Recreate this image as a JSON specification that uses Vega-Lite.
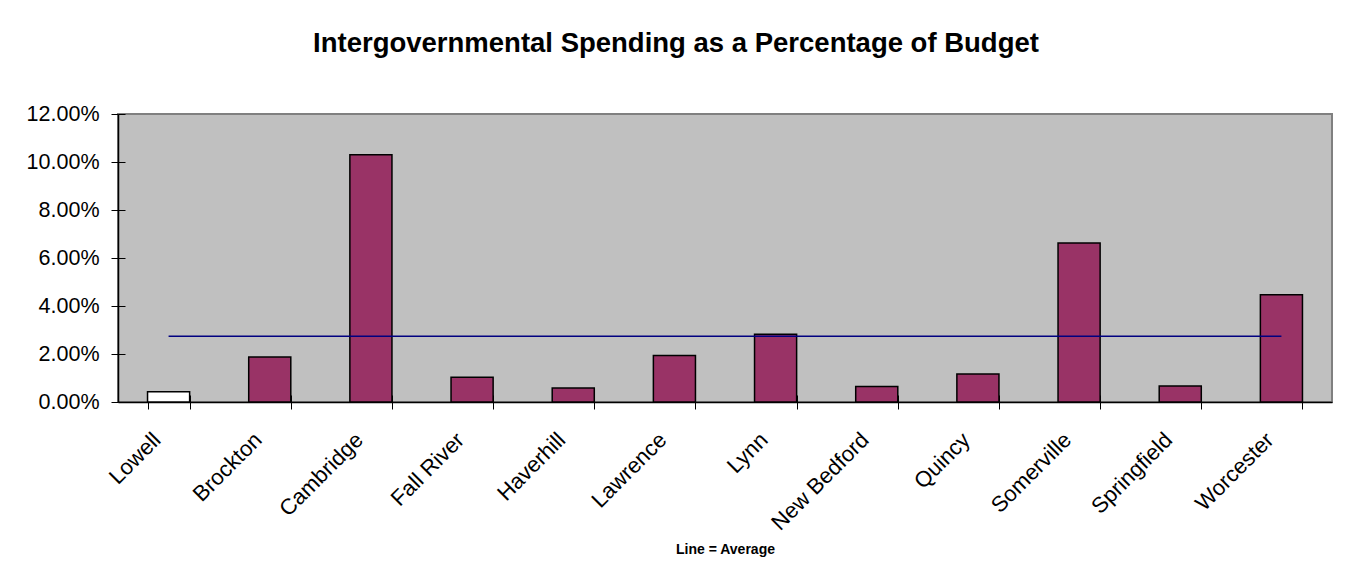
{
  "$schema": "https://vega.github.io/schema/vega-lite/v6.json",
  "autosize": {"type": "none"},
  "width": 1214,
  "height": 288,
  "padding": {"left": 118, "top": 114, "right": 15, "bottom": 175},
  "background": "#FFFFFF",
  "title": {
    "text": "Intergovernmental Spending as a Percentage of Budget",
    "anchor": "middle",
    "dx": -49,
    "offset": 24,
    "baseline": "alphabetic",
    "font": "Liberation Sans",
    "fontSize": 27.5,
    "fontWeight": "bold",
    "color": "#000000"
  },
  "data": {
    "values": [
      {"city": "Lowell", "group": "Lowell", "pct": 0.0043, "average": 0.0274},
      {"city": "Brockton", "group": "Other", "pct": 0.0188, "average": 0.0274},
      {"city": "Cambridge", "group": "Other", "pct": 0.1030, "average": 0.0274},
      {"city": "Fall River", "group": "Other", "pct": 0.0103, "average": 0.0274},
      {"city": "Haverhill", "group": "Other", "pct": 0.0058, "average": 0.0274},
      {"city": "Lawrence", "group": "Other", "pct": 0.0194, "average": 0.0274},
      {"city": "Lynn", "group": "Other", "pct": 0.0282, "average": 0.0274},
      {"city": "New Bedford", "group": "Other", "pct": 0.0065, "average": 0.0274},
      {"city": "Quincy", "group": "Other", "pct": 0.0117, "average": 0.0274},
      {"city": "Somerville", "group": "Other", "pct": 0.0663, "average": 0.0274},
      {"city": "Springfield", "group": "Other", "pct": 0.0067, "average": 0.0274},
      {"city": "Worcester", "group": "Other", "pct": 0.0447, "average": 0.0274}
    ]
  },
  "layer": [
    {
      "mark": {"type": "bar", "stroke": "#000000", "strokeWidth": 1.5},
      "encoding": {
        "x": {
          "field": "city",
          "type": "nominal",
          "sort": null,
          "scale": {"paddingInner": 0.584, "paddingOuter": 0.292},
          "axis": {
            "title": "Line = Average",
            "titleFont": "Liberation Sans",
            "titleFontSize": 14,
            "titleFontWeight": "bold",
            "titleColor": "#000000",
            "titleY": 151,
            "titleBaseline": "alphabetic",
            "labelAngle": -45,
            "labelAlign": "right",
            "labelBaseline": "middle",
            "labelFont": "Liberation Sans",
            "labelFontSize": 22,
            "labelColor": "#000000",
            "labelPadding": 27,
            "labelOffset": -12,
            "tickBand": "extent",
            "tickSize": 7,
            "tickColor": "#000000",
            "tickWidth": 1,
            "domainColor": "#000000",
            "domainWidth": 1.5,
            "grid": false
          }
        },
        "y": {
          "field": "pct",
          "type": "quantitative",
          "scale": {"domain": [0, 0.12], "nice": false},
          "axis": {
            "title": null,
            "format": ".2%",
            "values": [0, 0.02, 0.04, 0.06, 0.08, 0.1, 0.12],
            "labelFont": "Liberation Sans",
            "labelFontSize": 21.5,
            "labelColor": "#000000",
            "labelPadding": 12,
            "tickSize": 7,
            "tickColor": "#000000",
            "domainColor": "#000000",
            "domainWidth": 1.5,
            "grid": false
          }
        },
        "color": {
          "field": "group",
          "type": "nominal",
          "scale": {"domain": ["Lowell", "Other"], "range": ["#FFFFFF", "#993366"]},
          "legend": null
        }
      }
    },
    {
      "mark": {"type": "line", "color": "#000080", "strokeWidth": 1.5},
      "encoding": {
        "x": {
          "field": "city",
          "type": "nominal",
          "sort": null,
          "axis": {
            "orient": "bottom",
            "title": null,
            "labels": false,
            "domain": false,
            "tickBand": "extent",
            "tickSize": -7,
            "tickColor": "#000000",
            "tickWidth": 1,
            "grid": false
          }
        },
        "y": {
          "field": "average",
          "type": "quantitative",
          "axis": {
            "orient": "left",
            "title": null,
            "labels": false,
            "domain": false,
            "values": [0, 0.02, 0.04, 0.06, 0.08, 0.1, 0.12],
            "tickSize": -7,
            "tickColor": "#000000",
            "grid": false
          }
        }
      }
    }
  ],
  "resolve": {"axis": {"x": "independent", "y": "independent"}},
  "config": {
    "view": {"fill": "#C0C0C0", "stroke": "#808080", "strokeWidth": 2}
  }
}
